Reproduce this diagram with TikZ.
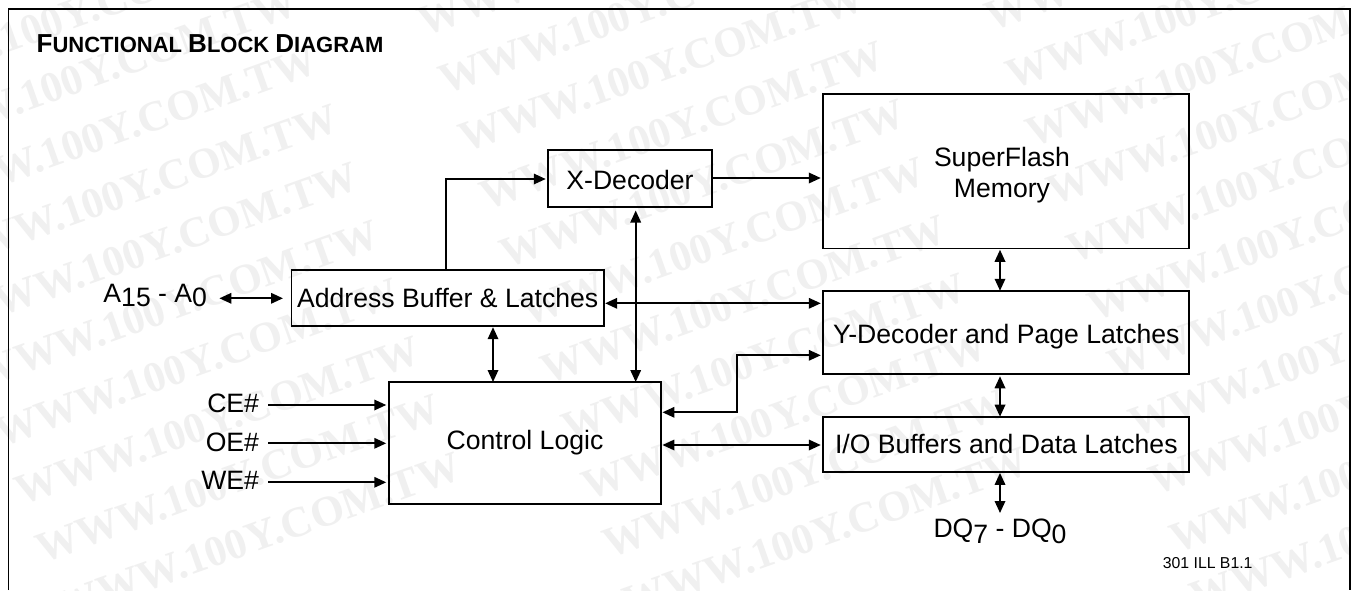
\documentclass[tikz,border=0pt]{standalone}
\usepackage{fontspec}
\setmainfont{Liberation Sans}
\newfontfamily\wmfont{Liberation Serif}
\usetikzlibrary{arrows.meta}
\newcommand{\fsz}[1]{\fontsize{#1}{#1}\selectfont}
\tikzset{
  blockbox/.style={draw=black,line width=1.8pt,inner sep=0pt,outer sep=0pt,font=\fsz{26.6}},
  bl/.style={text height=#1*2pt,text depth=0pt},
  lbl/.style={inner sep=0pt,outer sep=0pt,font=\fsz{26.6},text=black},
  tinylbl/.style={inner sep=0pt,outer sep=0pt,font=\fsz{15.8}},
  wire/.style={draw=black,line width=1.8pt},
  oneway/.style={wire,-{Triangle[length=12pt,width=10.5pt]},shorten >=2.5pt},
  twoway/.style={wire,{Triangle[length=12pt,width=10.5pt]}-{Triangle[length=12pt,width=10.5pt]},shorten >=2.5pt,shorten <=1.2pt},
  tightend/.style={shorten >=0pt},
  wm/.style={inner sep=0pt,outer sep=0pt,rotate=19.6,anchor=base west,text=black!6,font=\wmfont\bfseries\fsz{43}}
}
\begin{document}
\begin{tikzpicture}[x=1pt,y=-1pt]
\useasboundingbox (0,0) rectangle (1351,590);
\fill[white] (0,0) rectangle (1351,590);
\begin{scope}
\clip (0,0) rectangle (1351,590);
\foreach \i in {-2,...,9}{
  \foreach \j in {-1,0,1,2}{
    \node[wm] (wm\i x\j) at ({445+20.5*\i+567*\j},{94+58*\i-5*\j}) {WWW.100Y.COM.TW};
  }
}
\end{scope}
% frame
\coordinate (fl) at (8.5,590);
\coordinate (ftl) at (8.5,9);
\coordinate (ftr) at (1350,9);
\coordinate (fr) at (1350,590);
\draw[line width=1.8pt,line join=miter] (fl) -- (ftl) -- (ftr) -- (fr);
% title
\node[inner sep=0pt,anchor=base west] (title) at (36.5,52.5) {\bfseries\fsz{26}F\fsz{22}UNCTIONAL \fsz{26}B\fsz{22}LOCK \fsz{26}D\fsz{22}IAGRAM};
% blocks
\node[blockbox,bl=10.5,minimum width=163.5pt,minimum height=57pt] (xd) at (630,178.5) {X-Decoder};
\node[blockbox,minimum width=366pt,minimum height=154.5pt] (sf) at (1006.3,171.3) {};
\node[blockbox,bl=9.3,minimum width=312.5pt,minimum height=56pt] (ab) at (447.7,298) {Address Buffer \& Latches};
\node[blockbox,bl=10.5,minimum width=366pt,minimum height=83.5pt] (yd) at (1006.3,332.5) {Y-Decoder and Page Latches};
\node[blockbox,bl=6,minimum width=272.5pt,minimum height=122pt] (cl) at (525,443) {Control Logic};
\node[blockbox,bl=8.8,minimum width=366pt,minimum height=55pt] (io) at (1006.3,444.2) {I/O Buffers and Data Latches};
% labels
\node[lbl,anchor=base] (sfa) at (1002,166) {SuperFlash};
\node[lbl,anchor=base] (sfb) at (1002,197.7) {Memory};
\node[lbl,anchor=base east] (a) at (207,302) {A\raisebox{-4.5pt}{15} - A\raisebox{-4.5pt}{0}};
\node[lbl,anchor=base east] (ce) at (259,412.7) {CE\#};
\node[lbl,anchor=base east] (oe) at (259,451.5) {OE\#};
\node[lbl,anchor=base east] (we) at (259,489.5) {WE\#};
\node[lbl,anchor=base] (dq) at (1000,537) {DQ\raisebox{-6.5pt}{7} - DQ\raisebox{-6.5pt}{0}};
\node[tinylbl,anchor=base east] (ill) at (1252.5,568) {301 ILL B1.1};
\coordinate (astart) at (219.4,298.3);
\coordinate (aend) at (283,298.3);
\coordinate (dqend) at (1000,513);
% connectors
\draw[oneway] (ab.north -| 445.7,0) |- (xd.west |- 0,179);
\draw[oneway] (xd.east |- 0,178) -- (sf.west |- 0,178);
\draw[twoway,shorten <=3.5pt,tightend] (xd.south -| 635.7,0) -- (cl.north -| 635.7,0);
\draw[twoway] (ab.east |- 0,303.3) -- (yd.west |- 0,303.3);
\draw[twoway,shorten <=0pt,tightend] (astart) -- (aend);
\draw[twoway,tightend] (ab.south -| 493,0) -- (cl.north -| 493,0);
\draw[twoway] (cl.east |- 0,412.3) -- (737,412.3) -- (737,355.3) -- (yd.west |- 0,355.3);
\draw[twoway] (cl.east |- 0,445) -- (io.west |- 0,445);
\draw[twoway,tightend] (sf.south -| 1000,0) -- (yd.north -| 1000,0);
\draw[twoway,tightend,shorten <=2pt] (yd.south -| 1000,0) -- (io.north -| 1000,0);
\draw[twoway,tightend] (io.south -| 1000,0) -- (dqend);
\draw[oneway] (ce.east |- 0,405) ++(9,0) -- (cl.west |- 0,405);
\draw[oneway] (oe.east |- 0,443.3) ++(9,0) -- (cl.west |- 0,443.3);
\draw[oneway] (we.east |- 0,482.3) ++(9,0) -- (cl.west |- 0,482.3);
\end{tikzpicture}
\end{document}
